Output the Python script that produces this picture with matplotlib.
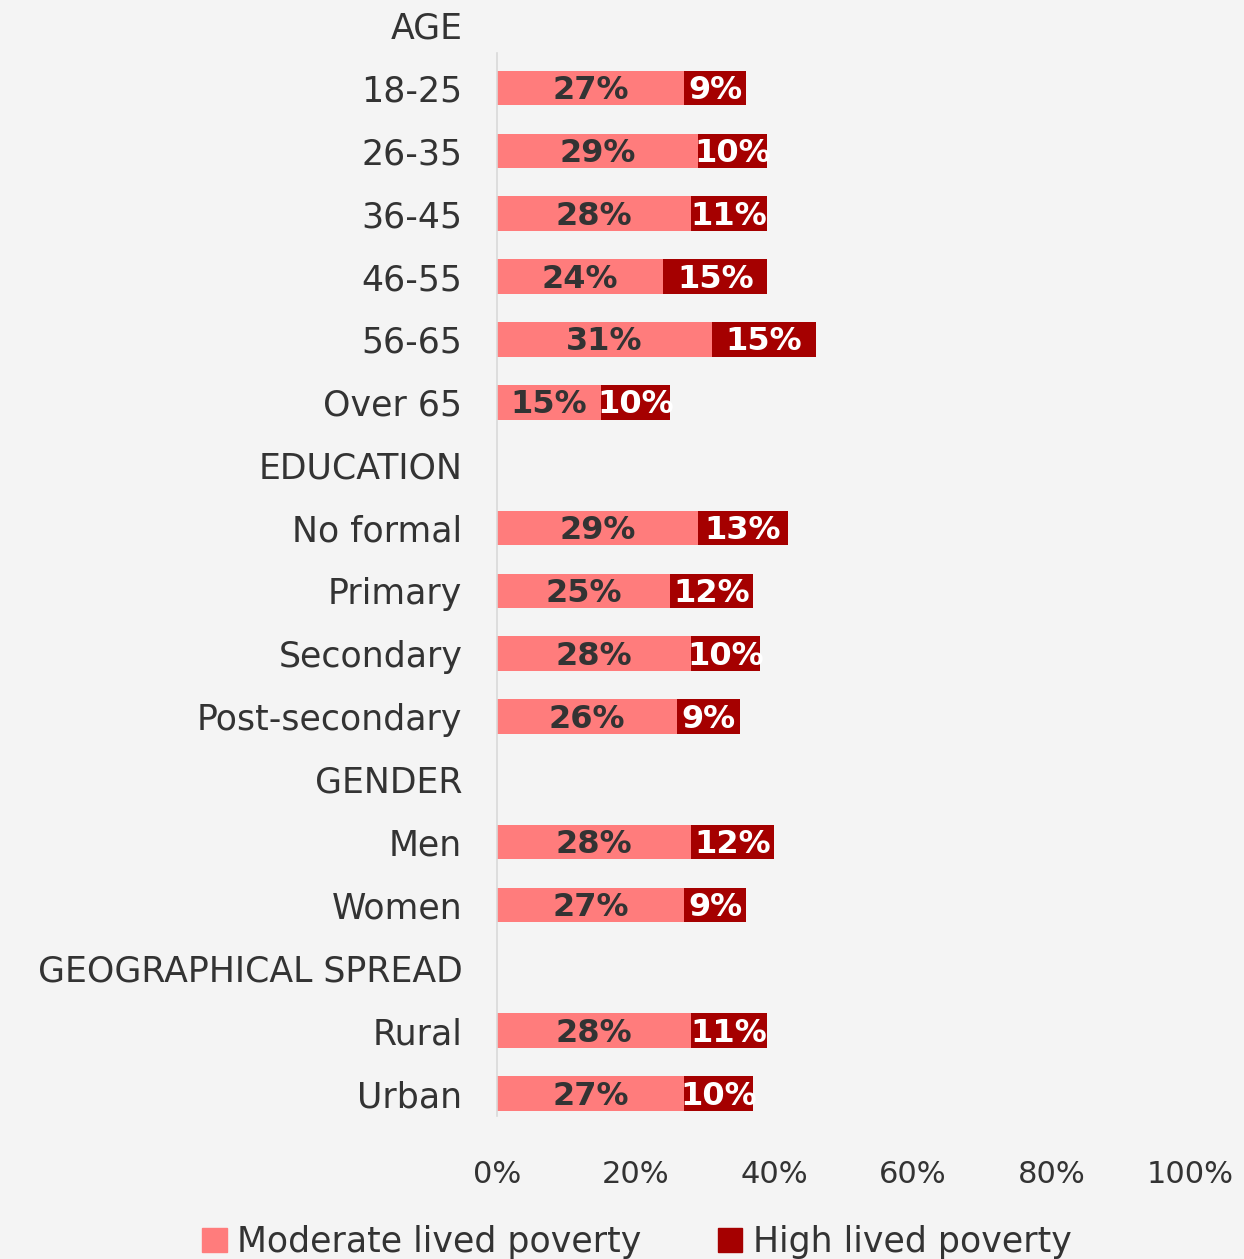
import matplotlib.pyplot as plt
import numpy as np

categories = ["AGE", "18-25", "26-35", "36-45", "46-55", "56-65", "Over 65",
              "EDUCATION", "No formal", "Primary", "Secondary", "Post-secondary",
              "GENDER", "Men", "Women",
              "GEOGRAPHICAL SPREAD", "Rural", "Urban"]
# None = header row, no bar
moderate = [None, 27, 29, 28, 24, 31, 15,
            None, 29, 25, 28, 26,
            None, 28, 27,
            None, 28, 27]
high = [None, 9, 10, 11, 15, 15, 10,
        None, 13, 12, 10, 9,
        None, 12, 9,
        None, 11, 10]
xticks = [0, 20, 40, 60, 80, 100]

PINK = "#ff7c7c"
DARK = "#a50000"
TXT = "#333333"
BG = "#f4f4f4"
plt.rcParams['font.family'] = ['DejaVu Sans']

fig = plt.figure(figsize=(12.44, 12.59), dpi=100, facecolor=BG)
ax = fig.add_axes([497 / 1244, 1 - 1115.6 / 1259, (1190 - 497) / 1244, 1115.6 / 1259])
ax.set_facecolor(BG)
ax.patch.set_alpha(0)

y = np.arange(len(categories))
for i, (m, h) in enumerate(zip(moderate, high)):
    if m is None:
        continue
    ax.barh(i, m, height=0.55, color=PINK, edgecolor="none")
    ax.barh(i, h, left=m, height=0.55, color=DARK, edgecolor="none")
    ax.text(m / 2, i + 0.04, f"{m}%", ha="center", va="center",
            fontsize=23, fontweight="bold", color=TXT)
    ax.text(m + h / 2, i + 0.04, f"{h}%", ha="center", va="center",
            fontsize=23, fontweight="bold", color="white")

ax.set_xlim(0, 100)
ax.set_ylim(17.35, -0.4)
ax.set_yticks(y)
ax.set_yticklabels(categories, fontsize=25, color=TXT)
ax.set_xticks(xticks)
ax.set_xticklabels([f"{t}%" for t in xticks], fontsize=22, color=TXT)
ax.tick_params(axis="both", length=0)
ax.tick_params(axis="y", pad=25)
ax.tick_params(axis="x", pad=32)
for s in ["top", "right", "bottom"]:
    ax.spines[s].set_visible(False)
ax.spines["left"].set_color("#d9d9d9")
ax.spines["left"].set_linewidth(1.2)
ax.spines["left"].set_bounds(17.35, 0.45)

handles = [plt.Rectangle((0, 0), 1, 1, color=PINK), plt.Rectangle((0, 0), 1, 1, color=DARK)]
fig.legend(handles, ["Moderate lived poverty", "High lived poverty"], ncol=2,
           loc="center", bbox_to_anchor=(0.512, 17 / 1259), frameon=False,
           fontsize=25, labelcolor=TXT, handlelength=0.7, handleheight=0.7,
           handletextpad=0.3, columnspacing=2.2)

fig.savefig("out.png", dpi=100, facecolor=BG)
